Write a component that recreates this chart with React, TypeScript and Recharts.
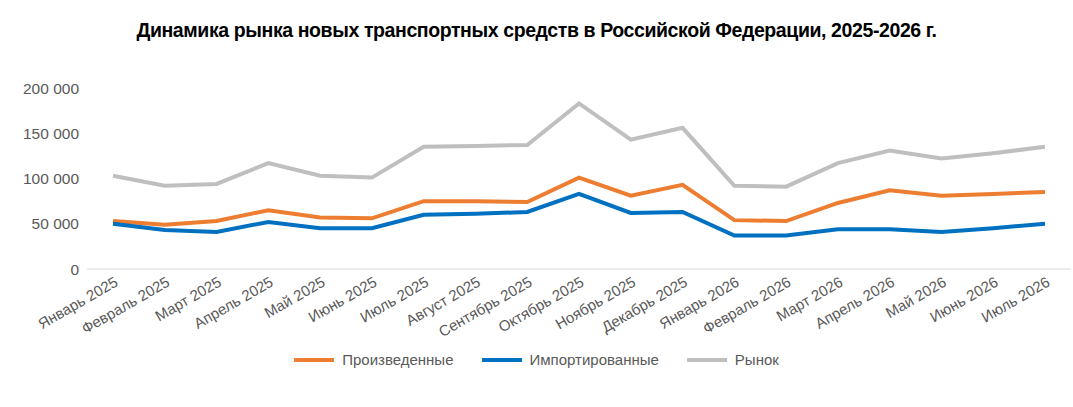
import { Line, LineChart, XAxis, YAxis } from "recharts";

const MONTHS = [
  "Январь 2025", "Февраль 2025", "Март 2025", "Апрель 2025", "Май 2025", "Июнь 2025",
  "Июль 2025", "Август 2025", "Сентябрь 2025", "Октябрь 2025", "Ноябрь 2025", "Декабрь 2025",
  "Январь 2026", "Февраль 2026", "Март 2026", "Апрель 2026", "Май 2026", "Июнь 2026", "Июль 2026",
];
const PRODUCED = [53000, 49000, 53000, 65000, 57000, 56000, 75000, 75000, 74000, 101000, 81000, 93000, 54000, 53000, 73000, 87000, 81000, 83000, 85000];
const IMPORTED = [50000, 43000, 41000, 52000, 45000, 45000, 60000, 61000, 63000, 83000, 62000, 63000, 37000, 37000, 44000, 44000, 41000, 45000, 50000];
const MARKET = [103000, 92000, 94000, 117000, 103000, 101000, 135000, 136000, 137000, 183000, 143000, 156000, 92000, 91000, 117000, 131000, 122000, 128000, 135000];
const Y_TICKS = [0, 50000, 100000, 150000, 200000];
const SERIES = [
  { key: "produced", name: "Произведенные", color: "#ed7d31" },
  { key: "imported", name: "Импортированные", color: "#0070c0" },
  { key: "market", name: "Рынок", color: "#bfbfbf" },
];

const FONT = "'Liberation Sans', Arial, sans-serif";

const data = MONTHS.map((month, i) => ({
  month,
  produced: PRODUCED[i],
  imported: IMPORTED[i],
  market: MARKET[i],
}));

const fmt = (v: number) => (v === 0 ? "0" : v.toLocaleString("ru-RU").replace(/\s/g, " "));

function MonthTick({ x, y, payload }: any) {
  return (
    <text x={x + 6} y={y + 8} textAnchor="end" fill="#595959" fontSize={15} fontFamily={FONT}
      transform={`rotate(-30 ${x + 6} ${y + 8})`}>
      {payload.value}
    </text>
  );
}

export default function App() {
  document.body.style.margin = "0";
  return (
    <div style={{ position: "relative", width: 1073, height: 407, background: "#fff", fontFamily: FONT }}>
      <div style={{ position: "absolute", top: 19, left: 0, width: 1073, textAlign: "center", fontWeight: "bold", fontSize: 19.5, color: "#000", letterSpacing: -0.4 }}>
        Динамика рынка новых транспортных средств в Российской Федерации, 2025-2026 г.
      </div>
      <LineChart width={1073} height={407} data={data} margin={{ top: 88, right: 2, bottom: 56, left: 7 }}>
        <XAxis dataKey="month" interval={0} tick={<MonthTick />} tickLine={false} height={82}
          axisLine={{ stroke: "#d9d9d9" }} padding={{ left: 26, right: 26 }} />
        <YAxis width={80} domain={[0, 200000]} ticks={Y_TICKS} tickFormatter={fmt} axisLine={false} tickLine={false}
          tick={{ fill: "#595959", fontSize: 15.5, fontFamily: FONT }} />
        {SERIES.map((s) => (
          <Line key={s.key} dataKey={s.key} name={s.name} stroke={s.color} strokeWidth={4} dot={false} isAnimationActive={false} />
        ))}
      </LineChart>
      <div style={{ position: "absolute", top: 351, left: 0, width: 1073, display: "flex", justifyContent: "center", gap: 28, fontSize: 15, color: "#595959" }}>
        {SERIES.map((s) => (
          <div key={s.key} style={{ display: "flex", alignItems: "center", gap: 8 }}>
            <div style={{ width: 40, height: 4, background: s.color }} />
            <span>{s.name}</span>
          </div>
        ))}
      </div>
    </div>
  );
}
